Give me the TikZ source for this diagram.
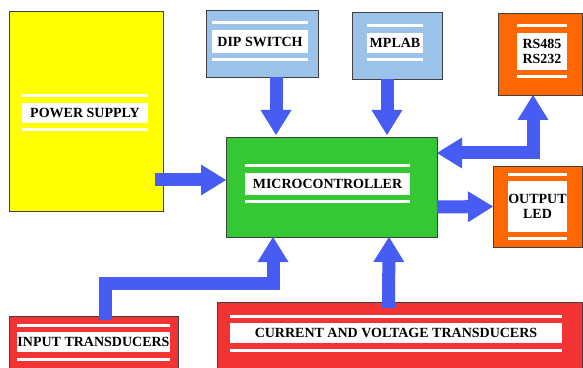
\documentclass[tikz,border=0pt]{standalone}
\usepackage{fontspec}
\setmainfont{Liberation Serif}
\usepackage{tikz}
\usetikzlibrary{arrows.meta}
\definecolor{psyellow}{RGB}{255,255,0}
\definecolor{swblue}{RGB}{155,194,232}
\definecolor{mcgreen}{RGB}{52,200,52}
\definecolor{comorange}{RGB}{255,104,0}
\definecolor{trred}{RGB}{242,52,52}
\definecolor{fatblue}{RGB}{70,92,242}
\def\stripes(#1){\draw[stripe] ([yshift=7pt]#1.north west) -- ([yshift=7pt]#1.north east); \draw[stripe] ([yshift=-7pt]#1.south west) -- ([yshift=-7pt]#1.south east);}
\tikzset{
	blk/.style={draw=black!75, line width=0.8pt, inner sep=0pt, outer sep=0pt},
	lbl/.style={fill=white, inner sep=0pt, outer sep=0pt, align=center, font=\fontsize{14}{15.5}\selectfont\bfseries},
	stripe/.style={white, line width=3pt},
	fat/.style={line width=13pt, color=fatblue, >={Triangle[length=25pt,width=31pt,line width=0pt]}}
}
\begin{document}
\begin{tikzpicture}[x=1pt, y=1pt]
			%%%%% START %%%%%
			\useasboundingbox (0, 0) rectangle (583, 367);
			
			\node[blk, fill=psyellow, minimum width=154, minimum height=200] (ps) at (86, 256) {};
			\node[lbl, minimum width=126, minimum height=20] (ps-lbl) at (85, 254) {POWER SUPPLY};
			\stripes(ps-lbl)
			
			\node[blk, fill=swblue, minimum width=112, minimum height=67] (dip) at (262, 323.5) {};
			\node[lbl, minimum width=96, minimum height=23] (dip-lbl) at (260, 325.5) {DIP SWITCH};
			\stripes(dip-lbl)
			
			\node[blk, fill=swblue, minimum width=90, minimum height=67] (mplab) at (397, 321.5) {};
			\node[lbl, minimum width=56, minimum height=20] (mplab-lbl) at (395, 324) {MPLAB};
			\stripes(mplab-lbl)
			
			\node[blk, fill=comorange, minimum width=84, minimum height=82] (rs) at (540, 313) {};
			\node[lbl, minimum width=50, minimum height=37] (rs-lbl) at (542, 315.5) {RS485\\RS232};
			\stripes(rs-lbl)
			
			\node[blk, fill=mcgreen, minimum width=211, minimum height=100] (mcu) at (331.5, 180) {};
			\node[lbl, minimum width=165, minimum height=22] (mcu-lbl) at (327.5, 183) {MICROCONTROLLER};
			\stripes(mcu-lbl)
			
			\node[blk, fill=comorange, minimum width=89, minimum height=81] (led) at (537.5, 160.5) {};
			\node[lbl, minimum width=59, minimum height=50] (led-lbl) at (537.5, 160.5) {OUTPUT\\LED};
			\stripes(led-lbl)
			
			\node[blk, fill=trred, minimum width=169, minimum height=55] (inp) at (93.5, 23.5) {};
			\node[lbl, minimum width=153, minimum height=20] (inp-lbl) at (93.5, 25) {INPUT TRANSDUCERS};
			\stripes(inp-lbl)
			
			\node[blk, fill=trred, minimum width=365, minimum height=70] (cvt) at (399.5, 30) {};
			\node[lbl, minimum width=332, minimum height=20] (cvt-lbl) at (396, 34) {CURRENT AND VOLTAGE TRANSDUCERS};
			\stripes(cvt-lbl)
			
			% fat arrows
			\draw[fat, ->] ([xshift=-8pt, yshift=-69pt]ps.east) -- ([yshift=7pt]mcu.west);
			\draw[fat, ->] ([xshift=14pt]dip.south) -- ([xshift=-55.5pt, yshift=2pt]mcu.north);
			\draw[fat, ->] ([xshift=-10pt]mplab.south) -- ([xshift=55.5pt, yshift=2pt]mcu.north);
			\draw[fat, <->] ([xshift=-7pt]rs.south) |- ([yshift=34pt]mcu.east);
			\draw[fat, ->] ([yshift=-20pt]mcu.east) -- (led.west);
			\draw[fat, ->] ([xshift=11.5pt, yshift=-4pt]inp.north) -- ++(0, 37) -| ([xshift=-58.5pt]mcu.south);
			\draw[fat, ->] ([xshift=-11pt, yshift=-6pt]cvt.north) -- ([xshift=57.5pt]mcu.south);
			
			%%%%% END %%%%%
\end{tikzpicture}
\end{document}
